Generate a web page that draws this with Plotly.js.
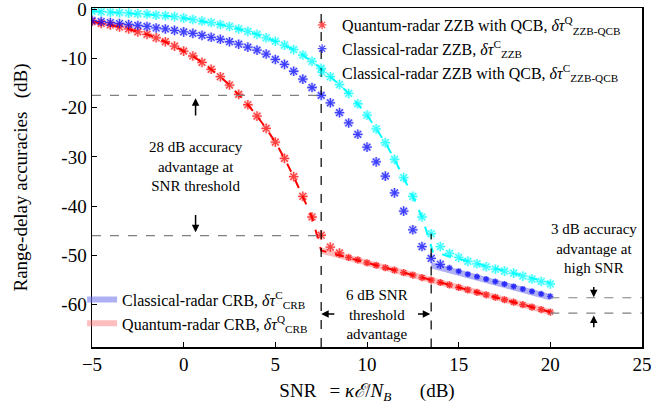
<!DOCTYPE html>
<html>
<head>
<meta charset="utf-8">
<script src="https://cdn.plot.ly/plotly-3.0.1.min.js"></script>
<style>html,body{margin:0;padding:0;background:#fff;}#chart{width:672px;height:407px;}</style>
</head>
<body>
<div id="chart"></div>
<script>
// SNR grid (dB)
const snr = [-5,-4.5,-4,-3.5,-3,-2.5,-2,-1.5,-1,-0.5,0,0.5,1,1.5,2,2.5,3,3.5,4,4.5,5,5.5,6,6.5,7,7.5,8,8.5,9,9.5,10,10.5,11,11.5,12,12.5,13,13.5,14,14.5,15,15.5,16,16.5,17,17.5,18,18.5,19,19.5,20];

// Quantum-radar ZZB with QCB (stars)
const quantumZZB = [-2.5,-2.9,-3.2,-3.6,-4.0,-4.6,-5.1,-5.8,-6.6,-7.5,-8.5,-9.5,-10.8,-12.2,-13.7,-15.4,-17.3,-19.4,-21.7,-24.2,-27.0,-30.3,-34.0,-38.0,-42.2,-45.9,-48.3,-49.5,-50.4,-50.9,-51.5,-52.0,-52.5,-53.0,-53.5,-54.0,-54.5,-55.0,-55.5,-56.0,-56.5,-57.0,-57.5,-58.0,-58.5,-59.0,-59.5,-60.0,-60.5,-61.0,-61.5];

// Classical-radar ZZB (stars)
const classicalZZB = [-2.3,-2.5,-2.7,-2.9,-3.1,-3.3,-3.5,-3.8,-4.0,-4.3,-4.6,-4.9,-5.3,-5.7,-6.1,-6.6,-7.1,-7.7,-8.3,-9.1,-10.2,-11.2,-12.6,-14.2,-15.9,-17.5,-19.0,-21.0,-23.1,-25.4,-28.0,-31.0,-33.9,-37.3,-41.0,-44.8,-48.2,-50.6,-51.8,-52.5,-53.2,-53.8,-54.3,-54.8,-55.3,-55.8,-56.3,-56.8,-57.3,-57.8,-58.3];

// Classical-radar ZZB with QCB (stars)
const classicalZZBQCB = [-0.4,-0.5,-0.6,-0.7,-0.8,-0.9,-1.0,-1.2,-1.3,-1.5,-1.8,-2.1,-2.4,-2.7,-3.1,-3.5,-4.0,-4.5,-5.1,-5.8,-6.5,-7.3,-8.2,-9.3,-10.6,-12.0,-13.7,-15.3,-17.1,-19.2,-21.5,-24.3,-27.1,-30.5,-34.2,-38.0,-42.2,-45.6,-48.2,-49.6,-50.4,-51.2,-51.7,-52.3,-52.8,-53.2,-53.6,-54.2,-54.8,-55.3,-55.8];

// dashed bound curves (fine computation)
const quantumLineX = [-5,-4.5,-4,-3.5,-3,-2.5,-2,-1.5,-1,-0.5,0,0.5,1,1.5,2,2.5,3,3.5,4,4.5,5,5.5,6,6.5,7,7.5,20];
const quantumLineY = [-2.5,-2.9,-3.2,-3.6,-4.0,-4.6,-5.1,-5.8,-6.6,-7.5,-8.5,-9.5,-10.8,-12.2,-13.7,-15.4,-17.3,-19.4,-21.7,-24.2,-27.0,-30.3,-34.0,-38.0,-42.2,-49.0,-61.5];
const cyanLineX = [-5,-4,-3,-2,-1,0,1,2,3,4,5,5.5,6,6.5,7,7.5,8,8.5,9,9.5,10,10.5,11,11.5,12,12.5,13,13.6,20];
const cyanLineY = [-0.4,-0.6,-0.8,-1.0,-1.3,-1.8,-2.4,-3.1,-4.0,-5.1,-6.5,-7.3,-8.2,-9.3,-10.6,-12.0,-13.7,-15.3,-17.1,-19.2,-21.5,-24.3,-27.1,-30.5,-34.2,-38.0,-42.2,-49.3,-55.6];

// CRBs
const crbQX = [7.5, 20], crbQY = [-49.0, -61.5];
const crbCX = [13.5, 20], crbCY = [-52.0, -58.5];

// reference levels
const snrThresholdQ = 7.5, snrThresholdC = 13.5;
const levelC = -17.5, levelQ = -46.0;
const highC = -58.6, highQ = -61.7;

const serif = 'Liberation Serif, Times New Roman, serif';

// stars that sit on the CRB band are drawn smaller
function sizes(onBandFrom, big, small) { return snr.map(v => v >= onBandFrom ? small : big); }

function haloTrace(y, rgba, sz) {
  return {x: snr, y: y, mode: 'markers', showlegend: false,
    marker: {symbol: 'asterisk-open', size: sz, color: rgba, line: {color: rgba, width: 3}}};
}
function starTrace(y, color, name, sz) {
  return {x: snr, y: y, mode: 'markers', name: name,
    marker: {symbol: 'asterisk-open', size: sz, color: color, line: {color: color, width: 1.3}}};
}

const szQ = sizes(9, 8, 6), szC = sizes(14.5, 8, 5), szCQ = sizes(99, 8, 8);

const traces = [
  {x: crbCX, y: crbCY, mode: 'lines', line: {color: 'rgba(110,110,235,0.55)', width: 6}, name: 'Classical-radar CRB, <i>δτ</i><sup>C</sup><sub>CRB</sub>', legend: 'legend2'},
  {x: crbQX, y: crbQY, mode: 'lines', line: {color: 'rgba(255,110,110,0.45)', width: 6}, name: 'Quantum-radar CRB, <i>δτ</i><sup>Q</sup><sub>CRB</sub>', legend: 'legend2'},
  haloTrace(quantumZZB, 'rgba(255,0,0,0.25)', szQ),
  haloTrace(classicalZZB, 'rgba(0,0,255,0.25)', szC),
  haloTrace(classicalZZBQCB, 'rgba(0,255,255,0.3)', szCQ),
  {x: quantumLineX, y: quantumLineY, mode: 'lines', line: {color: '#ff0000', width: 2, dash: 'dash'}, showlegend: false},
  {x: cyanLineX, y: cyanLineY, mode: 'lines', line: {color: '#00ffff', width: 2, dash: 'dash'}, showlegend: false},
  starTrace(quantumZZB, '#ff0000', 'Quantum-radar ZZB with QCB, <i>δτ</i><sup>Q</sup><sub>ZZB-QCB</sub>', szQ),
  starTrace(classicalZZB, '#0000ff', 'Classical-radar ZZB, <i>δτ</i><sup>C</sup><sub>ZZB</sub>', szC),
  starTrace(classicalZZBQCB, '#00ffff', 'Classical-radar ZZB with QCB, <i>δτ</i><sup>C</sup><sub>ZZB-QCB</sub>', szCQ)
];

const dashBlack = {color: '#000', width: 1.2, dash: 'dash'};
const dashGray = {color: '#808080', width: 1.2, dash: 'dash'};
const shapes = [
  {type: 'line', xref: 'x', yref: 'paper', x0: snrThresholdQ, x1: snrThresholdQ, y0: 0, y1: 1, line: dashBlack},
  {type: 'line', xref: 'x', yref: 'y', x0: snrThresholdC, x1: snrThresholdC, y0: -68.7, y1: -45.6, line: dashBlack},
  {type: 'line', xref: 'x', yref: 'y', x0: -5, x1: snrThresholdQ, y0: levelC, y1: levelC, line: dashGray},
  {type: 'line', xref: 'x', yref: 'y', x0: -5, x1: snrThresholdQ, y0: levelQ, y1: levelQ, line: dashGray},
  {type: 'line', xref: 'x', yref: 'y', x0: 20, x1: 25, y0: highC, y1: highC, line: dashGray},
  {type: 'line', xref: 'x', yref: 'y', x0: 20, x1: 25, y0: highQ, y1: highQ, line: dashGray}
];

function arrow(x, y, ax, ay) {
  return {x: x, y: y, ax: ax, ay: ay, xref: 'x', yref: 'y', axref: 'x', ayref: 'y', text: '', showarrow: true, arrowhead: 2, arrowsize: 1, arrowwidth: 1.5, arrowcolor: '#000'};
}
const annFont = {family: serif, size: 15, color: '#000'};
const annotations = [
  arrow(0.65, -18.1, 0.65, -21.9),
  arrow(0.65, -45.3, 0.65, -41.5),
  arrow(7.5, -61.9, 8.3, -61.9),
  arrow(13.45, -61.9, 12.7, -61.9),
  arrow(22.37, -58.5, 22.37, -56.1),
  arrow(22.37, -62.2, 22.37, -64.9),
  {x: 0.65, y: -31.9, xref: 'x', yref: 'y', text: '28 dB accuracy<br>advantage at<br>SNR threshold', showarrow: false, font: annFont, align: 'center'},
  {x: 10.55, y: -61.9, xref: 'x', yref: 'y', text: '6 dB SNR<br>threshold<br>advantage', showarrow: false, font: annFont, align: 'center'},
  {x: 22.37, y: -48.6, xref: 'x', yref: 'y', text: '3 dB accuracy<br>advantage at<br>high SNR', showarrow: false, font: annFont, align: 'center'}
];

const layout = {
  width: 672, height: 407,
  margin: {l: 92, r: 30, t: 8, b: 60},
  paper_bgcolor: '#fff', plot_bgcolor: '#fff',
  font: {family: serif, color: '#000'},
  xaxis: {
    range: [-5, 25], tickvals: [-5, 0, 5, 10, 15, 20, 25], ticks: 'inside', ticklen: 5, tickcolor: '#000',
    showline: true, linecolor: '#000', linewidth: 1.5, mirror: true, showgrid: false, zeroline: false,
    tickfont: {family: serif, size: 19}, ticklabeloverflow: 'allow',
    title: {text: 'SNR\u2002\u2009= <i>κℰ</i>/<i>N</i><sub><i>B</i></sub>\u2003\u2002(dB)', font: {family: serif, size: 19}, standoff: 9}
  },
  yaxis: {
    range: [-68.6, 0.25], tickvals: [0, -10, -20, -30, -40, -50, -60], ticktext: ['0', '-10', '-20', '-30', '-40', '-50', '-60'],
    ticks: 'inside', ticklen: 5, tickcolor: '#000', ticklabeloverflow: 'allow',
    showline: true, linecolor: '#000', linewidth: 1.5, mirror: true, showgrid: false, zeroline: false,
    tickfont: {family: serif, size: 19},
    title: {text: 'Range-delay accuracies\u2002\u2009(dB)', font: {family: serif, size: 19}, standoff: 28}
  },
  legend: {x: 0.382, y: 1.0, xanchor: 'left', yanchor: 'top', bgcolor: 'rgba(0,0,0,0)', font: {family: serif, size: 16}, tracegroupgap: 0, itemwidth: 30},
  legend2: {x: -0.018, y: 0.19, xanchor: 'left', yanchor: 'top', bgcolor: 'rgba(0,0,0,0)', font: {family: serif, size: 16}, itemwidth: 30},
  shapes: shapes,
  annotations: annotations
};

Plotly.newPlot('chart', traces, layout, {displayModeBar: false, staticPlot: true});
</script>
</body>
</html>
